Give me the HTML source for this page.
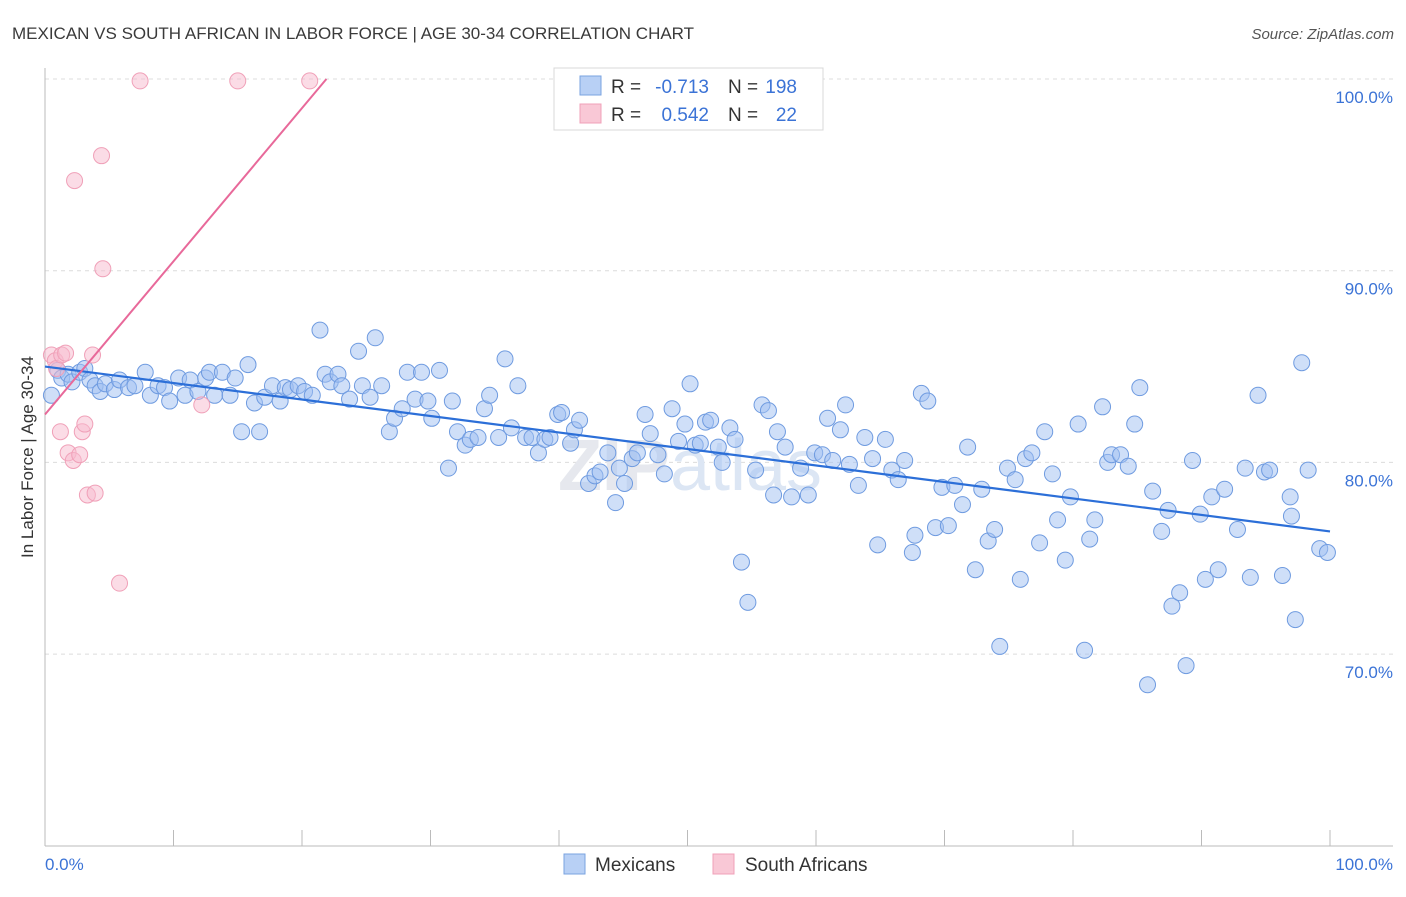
<!DOCTYPE html>
<html><head><meta charset="utf-8"><style>
body{margin:0;background:#fff;font-family:"Liberation Sans",sans-serif;}
svg text{font-family:"Liberation Sans",sans-serif;}
</style></head><body>
<svg id="chart" width="1406" height="892" viewBox="0 0 1406 892" xmlns="http://www.w3.org/2000/svg">
<text x="12" y="39" font-size="17" fill="#3a3a3a">MEXICAN VS SOUTH AFRICAN IN LABOR FORCE | AGE 30-34 CORRELATION CHART</text>
<text x="1394" y="39" font-size="15" fill="#555" text-anchor="end" font-style="italic">Source: ZipAtlas.com</text>
<g id="grid"></g>
<text x="690" y="490" font-size="72" fill="#e6e8ee" text-anchor="middle" font-weight="bold">ZIP<tspan fill="#dce6f4" font-weight="normal">atlas</tspan></text>
<g id="axes"></g>
<g id="blue"></g>
<g id="pink"></g>
<g id="lines"></g>
<text transform="translate(33,457) rotate(-90)" font-size="17" fill="#333" text-anchor="middle">In Labor Force | Age 30-34</text>
<text x="45" y="870" font-size="17" fill="#3b73d6">0.0%</text>
<text x="1393" y="870" font-size="17" fill="#3b73d6" text-anchor="end">100.0%</text>
<g>
<rect x="554" y="68" width="269" height="62" fill="#fff" stroke="#d8d8d8"/>
<rect x="580" y="76" width="21" height="19" fill="#b8d0f5" stroke="#7aa3e0"/>
<rect x="580" y="104" width="21" height="19" fill="#f9c8d6" stroke="#f0a0b8"/>
<text x="611" y="93" font-size="19" fill="#333">R =</text>
<text x="709" y="93" font-size="19" fill="#3b73d6" text-anchor="end">-0.713</text>
<text x="728" y="93" font-size="19" fill="#333">N =</text>
<text x="797" y="93" font-size="19" fill="#3b73d6" text-anchor="end">198</text>
<text x="611" y="121" font-size="19" fill="#333">R =</text>
<text x="709" y="121" font-size="19" fill="#3b73d6" text-anchor="end">0.542</text>
<text x="728" y="121" font-size="19" fill="#333">N =</text>
<text x="797" y="121" font-size="19" fill="#3b73d6" text-anchor="end">22</text>
</g>
<g>
<rect x="564" y="854" width="21" height="20" fill="#b8d0f5" stroke="#7aa3e0"/>
<text x="595" y="871" font-size="19" fill="#333">Mexicans</text>
<rect x="713" y="854" width="21" height="20" fill="#f9c8d6" stroke="#f0a0b8"/>
<text x="745" y="871" font-size="19" fill="#333">South Africans</text>
</g>
</svg>
<script>
const yTicks=[100,90,80,70];
const yTickLabels=["100.0%","90.0%","80.0%","70.0%"];
const xTicks=[0,10,20,30,40,50,60,70,80,90,100];
const blueX=[0.5,1.0,1.3,1.8,2.1,2.7,3.1,3.5,3.9,4.3,4.7,5.4,5.8,6.5,7.0,7.8,8.2,8.8,9.3,9.7,10.4,10.9,11.3,11.9,12.5,12.8,13.2,13.8,14.4,14.8,15.3,15.8,16.3,16.7,17.1,17.7,18.3,18.7,19.1,19.7,20.2,20.8,21.4,21.8,22.2,22.8,23.1,23.7,24.4,24.7,25.3,25.7,26.2,26.8,27.2,27.8,28.2,28.8,29.3,29.8,30.1,30.7,31.4,31.7,32.1,32.7,33.1,33.7,34.2,34.6,35.3,35.8,36.3,36.8,37.4,37.9,38.4,38.9,39.3,39.9,40.2,40.9,41.2,41.6,42.3,42.8,43.2,43.8,44.4,44.7,45.1,45.7,46.1,46.7,47.1,47.7,48.2,48.8,49.3,49.8,50.2,50.6,51.0,51.4,51.8,52.4,52.7,53.3,53.7,54.2,54.7,55.3,55.8,56.3,56.7,57.0,57.6,58.1,58.8,59.4,59.9,60.5,60.9,61.3,61.9,62.3,62.6,63.3,63.8,64.4,64.8,65.4,65.9,66.4,66.9,67.5,67.7,68.2,68.7,69.3,69.8,70.3,70.8,71.4,71.8,72.4,72.9,73.4,73.9,74.3,74.9,75.5,75.9,76.3,76.8,77.4,77.8,78.4,78.8,79.4,79.8,80.4,80.9,81.3,81.7,82.3,82.7,83.0,83.7,84.3,84.8,85.2,85.8,86.2,86.9,87.4,87.7,88.3,88.8,89.3,89.9,90.3,90.8,91.3,91.8,92.8,93.4,93.8,94.4,94.9,95.3,96.3,96.9,97.0,97.3,97.8,98.3,99.2,99.8];
const blueY=[83.5,84.8,84.4,84.6,84.2,84.7,84.9,84.3,84.0,83.7,84.1,83.8,84.3,83.9,84.0,84.7,83.5,84.0,83.9,83.2,84.4,83.5,84.3,83.7,84.4,84.7,83.5,84.7,83.5,84.4,81.6,85.1,83.1,81.6,83.4,84.0,83.2,83.9,83.8,84.0,83.7,83.5,86.9,84.6,84.2,84.6,84.0,83.3,85.8,84.0,83.4,86.5,84.0,81.6,82.3,82.8,84.7,83.3,84.7,83.2,82.3,84.8,79.7,83.2,81.6,80.9,81.2,81.3,82.8,83.5,81.3,85.4,81.8,84.0,81.3,81.3,80.5,81.2,81.3,82.5,82.6,81.0,81.7,82.2,78.9,79.3,79.5,80.5,77.9,79.7,78.9,80.2,80.5,82.5,81.5,80.4,79.4,82.8,81.1,82.0,84.1,80.9,81.0,82.1,82.2,80.8,80.0,81.8,81.2,74.8,72.7,79.6,83.0,82.7,78.3,81.6,80.8,78.2,79.7,78.3,80.5,80.4,82.3,80.1,81.7,83.0,79.9,78.8,81.3,80.2,75.7,81.2,79.6,79.1,80.1,75.3,76.2,83.6,83.2,76.6,78.7,76.7,78.8,77.8,80.8,74.4,78.6,75.9,76.5,70.4,79.7,79.1,73.9,80.2,80.5,75.8,81.6,79.4,77.0,74.9,78.2,82.0,70.2,76.0,77.0,82.9,80.0,80.4,80.4,79.8,82.0,83.9,68.4,78.5,76.4,77.5,72.5,73.2,69.4,80.1,77.3,73.9,78.2,74.4,78.6,76.5,79.7,74.0,83.5,79.5,79.6,74.1,78.2,77.2,71.8,85.2,79.6,75.5,75.3];
const pinkX=[0.5,0.8,0.9,1.3,1.6,1.2,1.8,2.2,2.7,2.9,3.1,3.3,3.9,3.7,2.3,4.4,4.5,5.8,7.4,12.2,15.0,20.6];
const pinkY=[85.6,85.3,84.9,85.6,85.7,81.6,80.5,80.1,80.4,81.6,82.0,78.3,78.4,85.6,94.7,96.0,90.1,73.7,99.9,83.0,99.9,99.9];
const blueTrend=[85.0,76.4];
const pinkTrend=[82.5,100];
const pinkTrendEnd=21.9;

const NS="http://www.w3.org/2000/svg";
const X0=45,X1=1330,Y100=79,PX10=191.7;
const sx=v=>X0+(X1-X0)*v/100;
const sy=v=>Y100+(100-v)*PX10/10;
function mk(tag,attrs,parent){const e=document.createElementNS(NS,tag);for(const k in attrs)e.setAttribute(k,attrs[k]);parent.appendChild(e);return e;}
const grid=document.getElementById('grid');
yTicks.forEach((t,i)=>{
  const l=mk('line',{x1:X0,x2:1393,y1:sy(t),y2:sy(t),stroke:'#dcdcdc','stroke-dasharray':'4,4'},grid);
  
  
  const tx=mk('text',{x:1393,y:sy(t)+24,'font-size':17,fill:'#3b73d6','text-anchor':'end'},grid);
  tx.textContent=yTickLabels[i];
  
  
});
const axes=document.getElementById('axes');
const ya=mk('line',{x1:X0,x2:X0,y1:68,y2:846,stroke:'#bbb'},axes);


const xa=mk('line',{x1:X0,x2:1393,y1:846,y2:846,stroke:'#bbb'},axes);


xTicks.forEach(t=>{
  const l=mk('line',{x1:sx(t),x2:sx(t),y1:830,y2:846,stroke:'#bbb'},axes);
  
  
});
const bg=document.getElementById('blue');
blueX.forEach((x,i)=>{
  const c=mk('circle',{cx:sx(x),cy:sy(blueY[i]),r:8,fill:'rgba(160,192,242,0.5)',stroke:'#6f9be0','stroke-width':1},bg);
  
  
});
const pg=document.getElementById('pink');
pinkX.forEach((x,i)=>{
  const c=mk('circle',{cx:sx(x),cy:sy(pinkY[i]),r:8,fill:'rgba(248,185,205,0.5)',stroke:'#f0a0b8','stroke-width':1},pg);
  
  
});
const lg=document.getElementById('lines');
const bl=mk('line',{x1:sx(0),y1:sy(blueTrend[0]),x2:sx(100),y2:sy(blueTrend[1]),stroke:'#2c6fd8','stroke-width':2.2},lg);


const pl=mk('line',{x1:sx(0),y1:sy(pinkTrend[0]),x2:sx(pinkTrendEnd),y2:sy(pinkTrend[1]),stroke:'#e8699a','stroke-width':2},lg);


</script>
</body></html>
